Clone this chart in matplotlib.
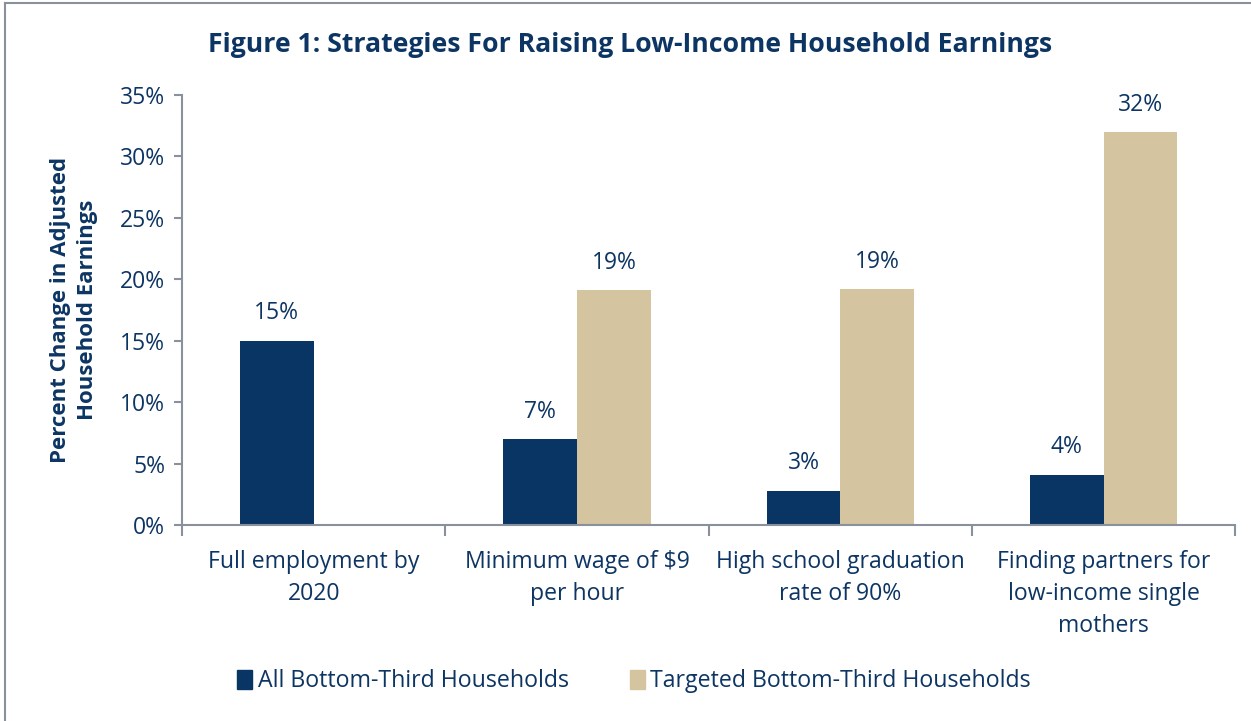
import numpy as np
import matplotlib
matplotlib.use('Agg')
import matplotlib.pyplot as plt
from matplotlib.lines import Line2D
from matplotlib.patches import Patch

plt.rcParams['font.family'] = ['Open Sans', 'DejaVu Sans']

categories = ['Full employment by\n2020', 'Minimum wage of $9\nper hour',
              'High school graduation\nrate of 90%', 'Finding partners for\nlow-income single\nmothers']
all_bottom = [15.0, 7.0, 2.8, 4.1]
targeted = [np.nan, 19.1, 19.2, 32.0]
all_labels = ['15%', '7%', '3%', '4%']
targeted_labels = ['', '19%', '19%', '32%']
yticks = [0, 5, 10, 15, 20, 25, 30, 35]

navy = '#083564'
tan = '#d4c49f'
text_col = '#0d3563'
axis_col = '#8a909c'

fig = plt.figure(figsize=(12.51, 7.21), dpi=100)
ax = fig.add_axes([0.1455, 0.2718, 0.842, 0.5964])

x = np.arange(len(categories))
w = 0.28
ax.bar(x - w / 2, all_bottom, w, color=navy, label='All Bottom-Third Households')
ax.bar(x + w / 2, np.nan_to_num(targeted), w, color=tan, label='Targeted Bottom-Third Households')

for i in range(len(categories)):
    ax.annotate(all_labels[i], (x[i] - w / 2, all_bottom[i]), xytext=(0, 11),
                textcoords='offset points', ha='center', va='bottom', fontsize=16.5, color=text_col)
    if targeted_labels[i]:
        ax.annotate(targeted_labels[i], (x[i] + w / 2, targeted[i]), xytext=(0, 11),
                    textcoords='offset points', ha='center', va='bottom', fontsize=16.5, color=text_col)

ax.set_xlim(-0.5, len(categories) - 0.5)
ax.set_ylim(0, 35)
ax.set_yticks(yticks)
ax.set_yticklabels(['%d%%' % v for v in yticks], fontsize=16.5, color=text_col)
ax.set_xticks(x)
ax.set_xticklabels(categories, fontsize=16.6, color=text_col, linespacing=1.44)
ax.set_xticks(np.arange(-0.5, len(categories)), minor=True)
ax.tick_params(axis='x', which='major', length=0, pad=18)
ax.tick_params(axis='x', which='minor', length=8, color=axis_col, width=1.5)
ax.tick_params(axis='y', length=6, color=axis_col, width=1.5, pad=6)

for s in ['top', 'right']:
    ax.spines[s].set_visible(False)
for s in ['left', 'bottom']:
    ax.spines[s].set_color(axis_col)
    ax.spines[s].set_linewidth(1.5)

ax.set_ylabel('Percent Change in Adjusted\nHousehold Earnings', fontsize=16, fontweight='bold',
              color=text_col, labelpad=16, linespacing=1.35)

fig.suptitle('Figure 1: Strategies For Raising Low-Income Household Earnings', x=0.504, y=0.955,
             fontsize=19.2, fontweight='bold', color=text_col)

handles = [Patch(color=navy), Patch(color=tan)]
fig.legend(handles, ['All Bottom-Third Households', 'Targeted Bottom-Third Households'],
           loc='center', bbox_to_anchor=(0.507, 0.055), ncol=2, frameon=False, fontsize=16.7,
           labelcolor=text_col, handlelength=0.65, handleheight=0.9, handletextpad=0.25, columnspacing=2.6)

# outer chart frame
fig.add_artist(Line2D([0.004, 0.004], [0, 0.996], color=axis_col, lw=1.5))
fig.add_artist(Line2D([0.004, 1], [0.996, 0.996], color=axis_col, lw=1.5))

fig.savefig('out.png', dpi=100)
